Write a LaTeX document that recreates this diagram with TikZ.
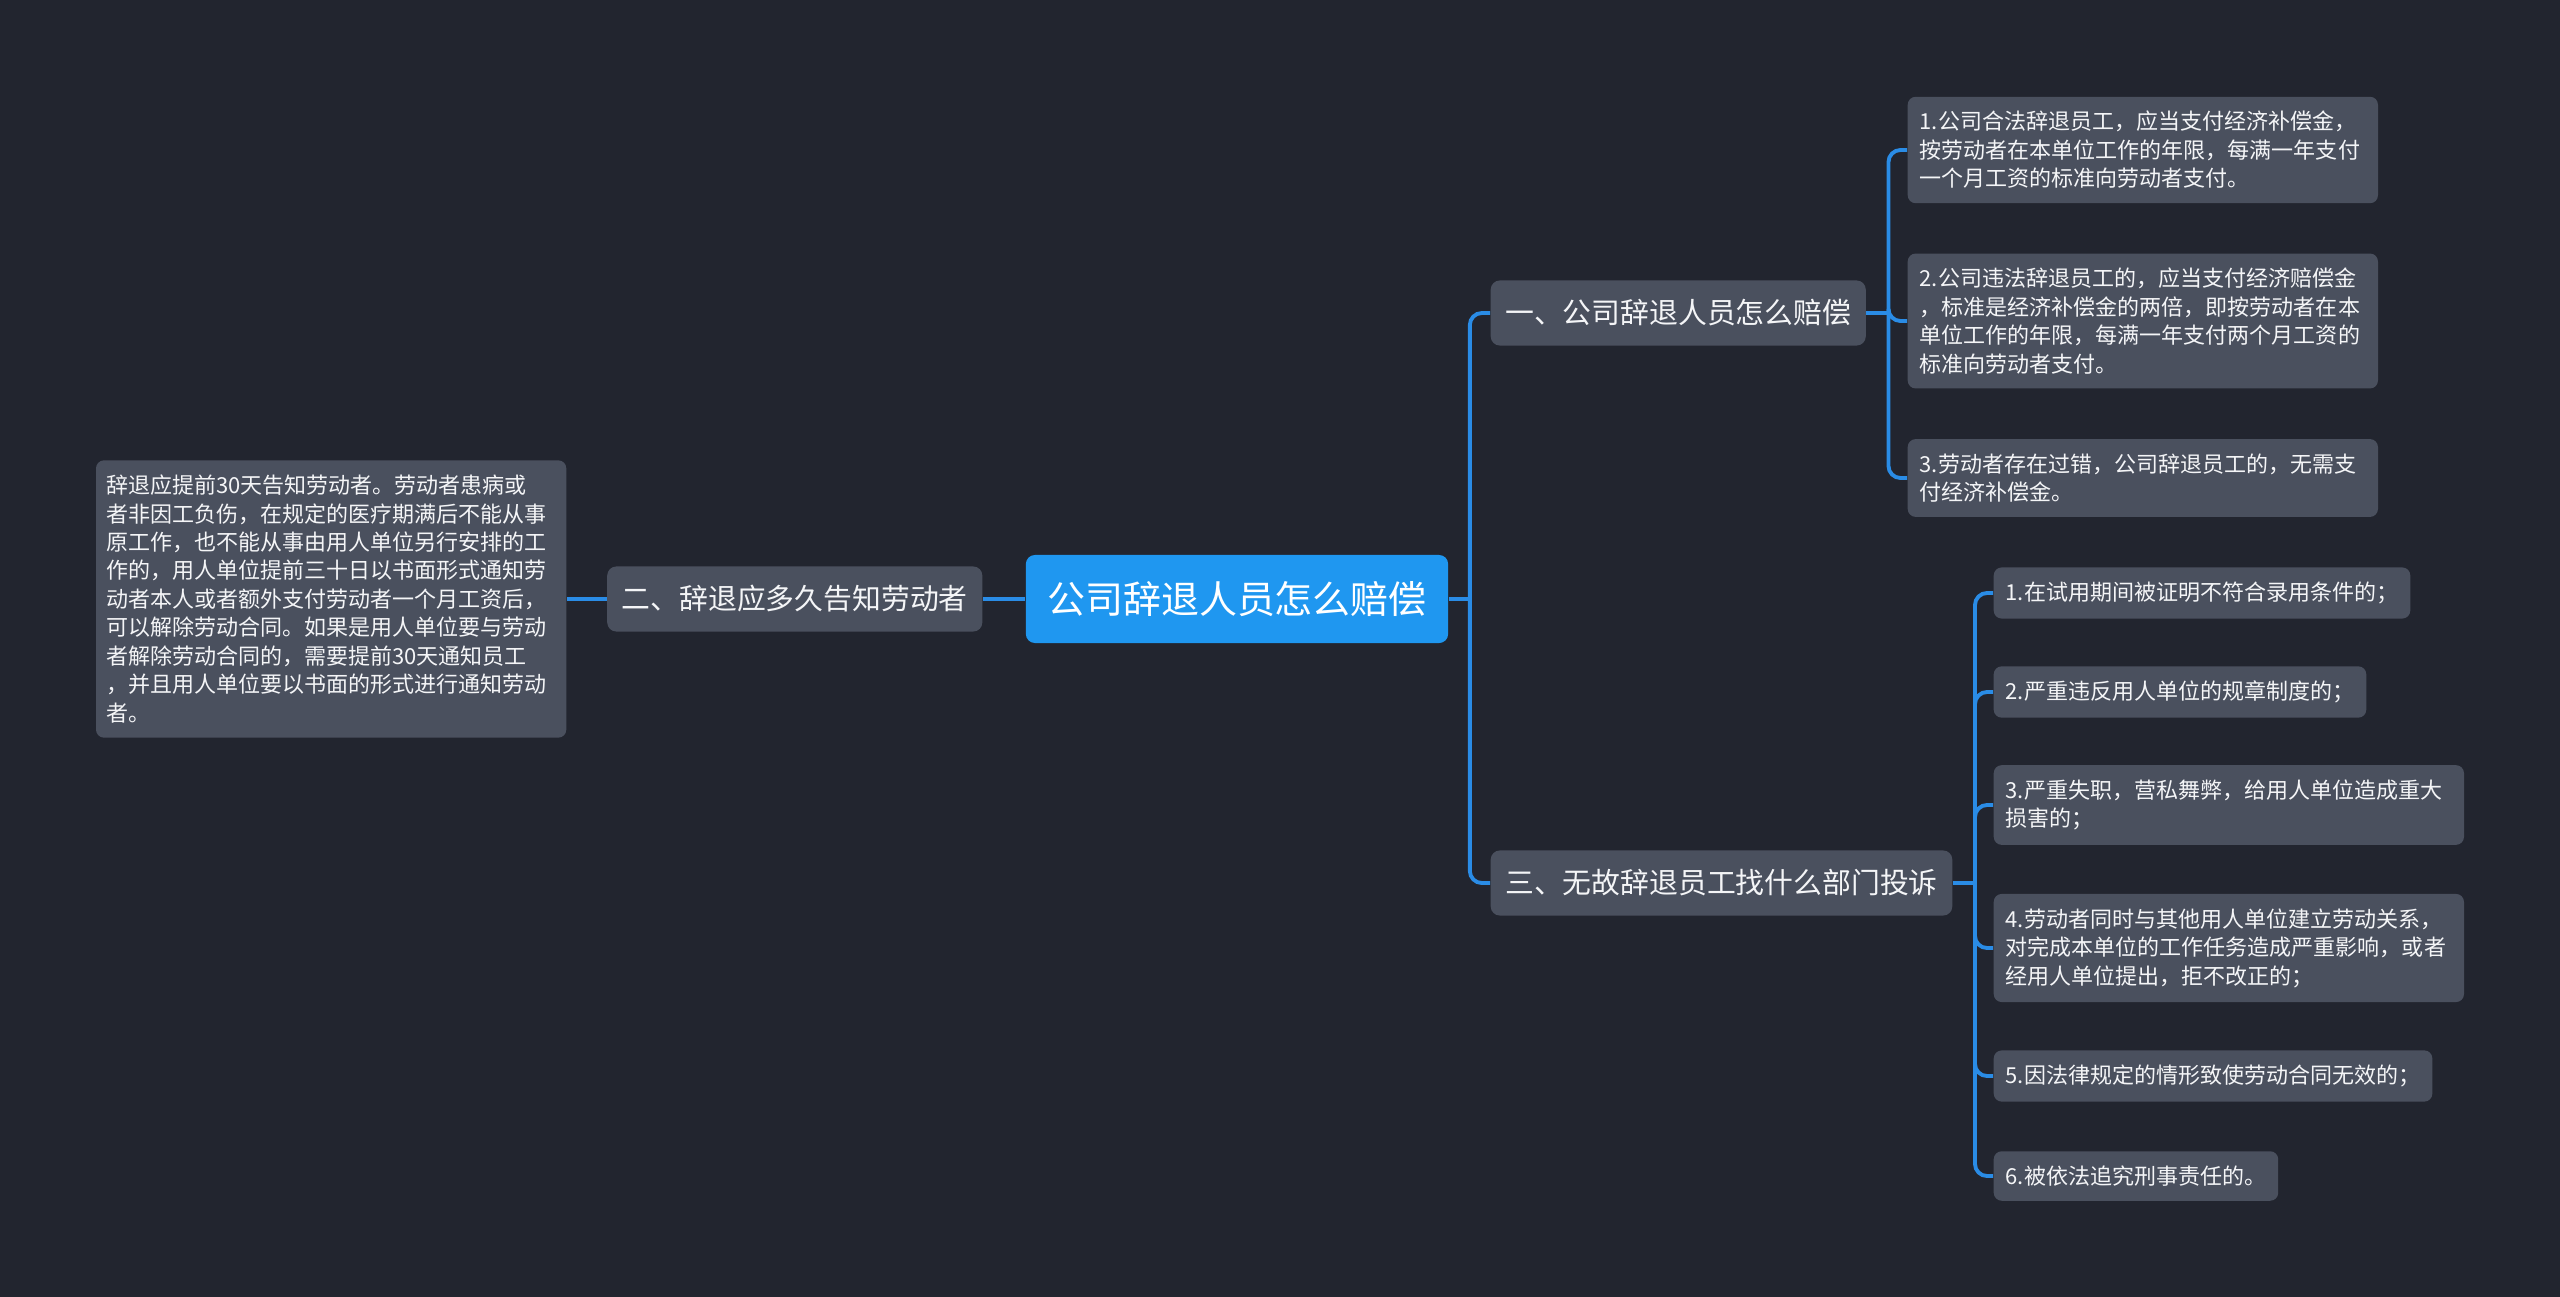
\documentclass[tikz,border=0pt]{standalone}
\usepackage{fontspec}
\setmainfont{Noto Sans CJK SC}
\usetikzlibrary{positioning}
\definecolor{bgdark}{HTML}{22252F}
\definecolor{cardgrey}{HTML}{4A505E}
\definecolor{rootblue}{HTML}{1F97F0}
\definecolor{linkblue}{HTML}{2A8CE6}
\definecolor{paper}{HTML}{F4F5F7}
\tikzset{
  rootnode/.style={rectangle,rounded corners=0.09cm,fill=rootblue,text=white,minimum width=4.22cm,minimum height=0.88cm,font=\fontsize{10.8}{13}\selectfont},
  topic/.style={rectangle,rounded corners=0.09cm,fill=cardgrey,text=paper,inner xsep=0.145cm,minimum height=0.65cm,font=\fontsize{8.2}{10}\selectfont},
  leaf/.style={rectangle,rounded corners=0.08cm,fill=cardgrey,text=paper,inner xsep=0.12cm,inner ysep=0.145cm,align=left,font=\fontsize{6.26}{8.1}\selectfont},
  wideleaf/.style={leaf,text width=4.46cm},
  link/.style={linkblue,line width=1.1pt,rounded corners=0.12cm}
}

\begin{document}
\begin{tikzpicture}[x=0.01cm,y=-0.01cm]
  \fill[bgdark] (0,0) rectangle (2560,1297);

  \node[rootnode] (root) at (1237,599) {公司辞退人员怎么赔偿};

  \node[topic,anchor=west] (b1) at (1490,313) {一、公司辞退人员怎么赔偿};
  \node[topic,anchor=east] (b2) at (983,599) {二、辞退应多久告知劳动者};
  \node[topic,anchor=west] (b3) at (1490,883) {三、无故辞退员工找什么部门投诉};

  \node[wideleaf,anchor=west] (l1) at (1907,150) {1.公司合法辞退员工，应当支付经济补偿金，\\按劳动者在本单位工作的年限，每满一年支付\\一个月工资的标准向劳动者支付。};
  \node[wideleaf,anchor=west] (l2) at (1907,321) {2.公司违法辞退员工的，应当支付经济赔偿金\\，标准是经济补偿金的两倍，即按劳动者在本\\单位工作的年限，每满一年支付两个月工资的\\标准向劳动者支付。};
  \node[wideleaf,anchor=west] (l3) at (1907,478) {3.劳动者存在过错，公司辞退员工的，无需支\\付经济补偿金。};

  \node[leaf,inner xsep=0.1cm,text width=4.5cm,anchor=east] (note) at (567,599) {辞退应提前30天告知劳动者。劳动者患病或\\者非因工负伤，在规定的医疗期满后不能从事\\原工作，也不能从事由用人单位另行安排的工\\作的，用人单位提前三十日以书面形式通知劳\\动者本人或者额外支付劳动者一个月工资后，\\可以解除劳动合同。如果是用人单位要与劳动\\者解除劳动合同的，需要提前30天通知员工\\，并且用人单位要以书面的形式进行通知劳动\\者。};

  \node[leaf,anchor=west] (m1) at (1993,593) {1.在试用期间被证明不符合录用条件的；};
  \node[leaf,anchor=west] (m2) at (1993,692) {2.严重违反用人单位的规章制度的；};
  \node[wideleaf,anchor=west] (m3) at (1993,805) {3.严重失职，营私舞弊，给用人单位造成重大\\损害的；};
  \node[wideleaf,anchor=west] (m4) at (1993,948) {4.劳动者同时与其他用人单位建立劳动关系，\\对完成本单位的工作任务造成严重影响，或者\\经用人单位提出，拒不改正的；};
  \node[leaf,anchor=west] (m5) at (1993,1076) {5.因法律规定的情形致使劳动合同无效的；};
  \node[leaf,anchor=west] (m6) at (1993,1176) {6.被依法追究刑事责任的。};

  \coordinate (j0) at ([xshift=0.21cm]root.east);
  \draw[link] (root.east) -- (j0);
  \draw[link] (j0) |- (b1.west);
  \draw[link] (j0) |- (b3.west);
  \draw[link] (root.west) -- (b2.east);
  \draw[link] (b2.west) -- (note.east);

  \coordinate (j1) at ([xshift=0.22cm]b1.east);
  \draw[link] (b1.east) -- (j1);
  \foreach \n in {l1,l2,l3}
    \draw[link] (j1) |- (\n.west);

  \coordinate (j3) at ([xshift=0.22cm]b3.east);
  \draw[link] (b3.east) -- (j3);
  \foreach \n in {m1,m2,m3,m4,m5,m6}
    \draw[link] (j3) |- (\n.west);
\end{tikzpicture}
\end{document}
